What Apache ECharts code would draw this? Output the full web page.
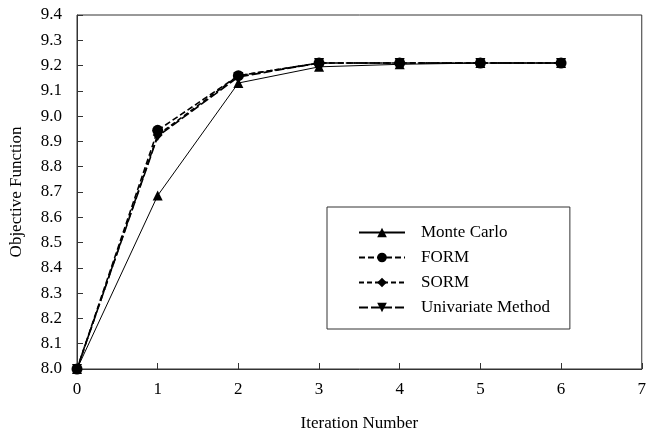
<!DOCTYPE html>
<html>
<head>
<meta charset="utf-8">
<script src="https://cdn.jsdelivr.net/npm/echarts@6/dist/echarts.min.js"></script>
<style>
html,body{margin:0;padding:0;background:#fff;}
#main{width:649px;height:437px;}
</style>
</head>
<body>
<div id="main"></div>
<script>
// iteration numbers and objective function values per method
var iterations = [0, 1, 2, 3, 4, 5, 6];
var monteCarlo = [8.0, 8.686, 9.131, 9.195, 9.205, 9.21, 9.21];
var form = [8.0, 8.944, 9.16, 9.21, 9.21, 9.21, 9.21];
var sorm = [8.0, 8.925, 9.16, 9.21, 9.21, 9.21, 9.21];
var univariate = [8.0, 8.92, 9.155, 9.21, 9.21, 9.21, 9.21];
var seriesNames = ['Monte Carlo', 'FORM', 'SORM', 'Univariate Method'];

function pairs(vals) {
	var out = [];
	for (var i = 0; i < iterations.length; i++) {
		out.push([iterations[i], vals[i]]);
	}
	return out;
}

var font = 'Liberation Serif';
var fs = 17;
var myChart = echarts.init(document.getElementById('main'));

function mkSeries(name, vals, symbol, size, lineType, width, rotate) {
	return {
		name: name,
		type: 'line',
		data: pairs(vals),
		symbol: symbol,
		symbolSize: size,
		symbolRotate: rotate || 0,
		showSymbol: true,
		itemStyle: { color: '#000' },
		lineStyle: { color: '#000', width: width, type: lineType },
		animation: false
	};
}

var option = {
	backgroundColor: '#fff',
	animation: false,
	grid: {
		left: 75, right: 7, top: 15, bottom: 63,
		show: true, borderColor: '#333', borderWidth: 1
	},
	xAxis: {
		type: 'value',
		min: 0, max: 7, interval: 1,
		name: 'Iteration Number',
		nameLocation: 'middle',
		nameGap: 46,
		nameTextStyle: { fontFamily: font, fontSize: fs, color: '#000' },
		axisLine: { lineStyle: { color: '#333', width: 1 } },
		axisTick: { inside: true, length: 6, lineStyle: { color: '#333' } },
		axisLabel: { fontFamily: font, fontSize: fs, color: '#000', margin: 12 },
		splitLine: { show: false }
	},
	yAxis: {
		type: 'value',
		min: 8.0, max: 9.4, interval: 0.1,
		name: 'Objective Function',
		nameLocation: 'middle',
		nameGap: 52,
		nameTextStyle: { fontFamily: font, fontSize: fs, color: '#000' },
		axisLine: { show: true, lineStyle: { color: '#333', width: 1 } },
		axisTick: { show: true, inside: true, length: 6, lineStyle: { color: '#333' } },
		axisLabel: {
			fontFamily: font, fontSize: fs, color: '#000', margin: 15,
			formatter: function (v) { return v.toFixed(1); }
		},
		splitLine: { show: false }
	},
	legend: {
		orient: 'vertical',
		left: 327,
		top: 207,
		padding: [17, 20, 13, 31],
		itemGap: 8,
		itemWidth: 46,
		itemHeight: 12,
		borderColor: '#333',
		borderWidth: 1,
		backgroundColor: '#fff',
		textStyle: { fontFamily: font, fontSize: fs, color: '#000', padding: [0, 0, 0, 11] },
		data: seriesNames
	},
	series: [
		mkSeries(seriesNames[0], monteCarlo, 'triangle', 10, 'solid', 1),
		mkSeries(seriesNames[1], form, 'circle', 11, [6, 3], 1.6),
		mkSeries(seriesNames[2], sorm, 'diamond', 10, [5, 3], 1.6),
		mkSeries(seriesNames[3], univariate, 'triangle', 10, [9, 3], 1.6, 180)
	]
};
myChart.setOption(option);
</script>
</body>
</html>
